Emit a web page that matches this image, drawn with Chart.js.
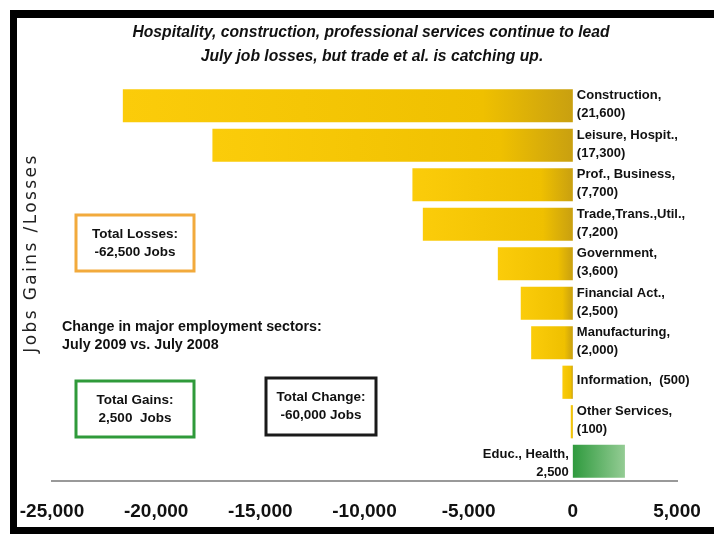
<!DOCTYPE html>
<html>
<head>
<meta charset="utf-8">
<script src="https://cdn.jsdelivr.net/npm/chart.js@4/dist/chart.umd.min.js"></script>
<style>
  html, body { margin: 0; padding: 0; background: #fff; }
  #wrap { position: relative; width: 714px; height: 534px; overflow: hidden; }
  #chart { position: absolute; left: 0; top: 0; }
  #frame {
    position: absolute; left: 10px; top: 10px; right: -10px; bottom: 0;
    border-top: 8px solid #000; border-left: 7px solid #000; border-bottom: 7px solid #000;
    box-sizing: border-box; pointer-events: none;
  }
</style>
</head>
<body>
<div id="wrap">
  <canvas id="chart" width="714" height="534"></canvas>
  <div id="frame"></div>
</div>
<script>
// Sector changes, July 2009 vs. July 2008
const categories = ['Construction', 'Leisure, Hospit.', 'Prof., Business', 'Trade,Trans.,Util.',
    'Government', 'Financial Act.', 'Manufacturing', 'Information', 'Other Services', 'Educ., Health'];
const jobChanges = [-21600, -17300, -7700, -7200, -3600, -2500, -2000, -500, -100, 2500];
const xTicks = [-25000, -20000, -15000, -10000, -5000, 0, 5000];

const titleLines = ['Hospitality, construction, professional services continue to lead',
    'July job losses, but trade et al. is catching up.'];
const noteLines = ['Change in major employment sectors:', 'July 2009 vs. July 2008'];

const fmt = v => v.toLocaleString('en-US');
const totalLosses = jobChanges.filter(v => v < 0).reduce((a, b) => a + b, 0);
const totalGains = jobChanges.filter(v => v > 0).reduce((a, b) => a + b, 0);
const totalChange = totalLosses + totalGains;

const FONT = '"Liberation Sans", Arial, sans-serif';

function barFill(context) {
    const chart = context.chart;
    const v = jobChanges[context.dataIndex];
    if (!chart.chartArea || v === undefined) return '#f0c000';
    const x = chart.scales.x;
    const a = x.getPixelForValue(v), b = x.getPixelForValue(0);
    const g = chart.ctx.createLinearGradient(Math.min(a, b), 0, Math.max(a, b) + 0.01, 0);
    if (v < 0) {
        g.addColorStop(0, '#fbcc0a');
        g.addColorStop(0.8, '#efc000');
        g.addColorStop(1, '#c9a010');
    } else {
        g.addColorStop(0, '#2f9a3e');
        g.addColorStop(1, '#94cc94');
    }
    return g;
}

function drawBox(ctx, x, y, w, h, color, lines) {
    ctx.save();
    ctx.strokeStyle = color;
    ctx.lineWidth = 3;
    ctx.strokeRect(x, y, w, h);
    ctx.fillStyle = '#111';
    ctx.font = 'bold 13.5px ' + FONT;
    ctx.textAlign = 'center';
    ctx.textBaseline = 'middle';
    ctx.fillText(lines[0], x + w / 2, y + h / 2 - 9);
    ctx.fillText(lines[1], x + w / 2, y + h / 2 + 9);
    ctx.restore();
}

const annotations = {
    id: 'annotations',
    afterDatasetsDraw(chart) {
        const { ctx } = chart;
        const meta = chart.getDatasetMeta(0);
        ctx.save();
        ctx.fillStyle = '#111';
        ctx.font = 'bold 13px ' + FONT;
        ctx.textBaseline = 'middle';
        meta.data.forEach((bar, i) => {
            const v = jobChanges[i];
            const name = categories[i] + ',';
            if (v < 0) {
                ctx.textAlign = 'left';
                const x = bar.base + 4;
                const num = '(' + fmt(-v) + ')';
                if (categories[i] === 'Information') {
                    ctx.fillText(name + '  ' + num, x, bar.y - 2);
                } else {
                    ctx.fillText(name, x, bar.y - 10);
                    ctx.fillText(num, x, bar.y + 8);
                }
            } else {
                ctx.textAlign = 'right';
                const x = bar.base - 4;
                ctx.fillText(name, x, bar.y - 7);
                ctx.fillText(fmt(v), x, bar.y + 11);
            }
        });
        ctx.restore();
    },
    afterDraw(chart) {
        const { ctx } = chart;
        ctx.save();
        // title
        ctx.fillStyle = '#111';
        ctx.font = 'italic bold 15.7px ' + FONT;
        ctx.textAlign = 'center';
        ctx.textBaseline = 'middle';
        ctx.fillText(titleLines[0], 371, 33);
        ctx.fillText(titleLines[1], 372, 57);

        // axis title
        ctx.save();
        ctx.translate(32, 253);
        ctx.rotate(-Math.PI / 2);
        ctx.font = '17px "DejaVu Sans", sans-serif';
        ctx.letterSpacing = '2.4px';
        ctx.fillStyle = '#222';
        ctx.fillText('Jobs Gains /Losses', 0, 0);
        ctx.restore();

        // note
        ctx.font = 'bold 14.3px ' + FONT;
        ctx.textAlign = 'left';
        ctx.fillText(noteLines[0], 62, 327);
        ctx.fillText(noteLines[1], 62, 345);
        ctx.restore();

        drawBox(ctx, 76, 215, 118, 56, '#f2aa3c', ['Total Losses:', fmt(totalLosses) + ' Jobs']);
        drawBox(ctx, 76, 381, 118, 56, '#2f9a3a', ['Total Gains:', fmt(totalGains) + '  Jobs']);
        drawBox(ctx, 266, 378, 110, 57, '#1a1a1a', ['Total Change:', fmt(totalChange) + ' Jobs']);
    }
};

new Chart(document.getElementById('chart'), {
    type: 'bar',
    data: {
        labels: categories,
        datasets: [{
            data: jobChanges,
            backgroundColor: barFill,
            borderWidth: 0,
            barPercentage: 0.84,
            categoryPercentage: 1
        }]
    },
    options: {
        indexAxis: 'y',
        responsive: false,
        animation: false,
        layout: { padding: { left: 52, right: 37, top: 86, bottom: 8 } },
        plugins: {
            legend: { display: false },
            title: { display: false },
            tooltip: { enabled: false }
        },
        scales: {
            y: { display: false },
            x: {
                min: -25000,
                max: 5000,
                afterBuildTicks: scale => { scale.ticks = xTicks.map(v => ({ value: v })); },
                afterFit: scale => {
                    scale.height = 45;
                    scale.paddingLeft = 0;
                    scale.paddingRight = 0;
                },
                grid: { display: false, drawTicks: false },
                border: { display: true, color: '#999', width: 2 },
                ticks: {
                    padding: 19,
                    maxRotation: 0,
                    autoSkip: false,
                    color: '#111',
                    font: { family: FONT, size: 19, weight: 'bold' },
                    callback: v => fmt(v)
                }
            }
        }
    },
    plugins: [annotations]
});
</script>
</body>
</html>
